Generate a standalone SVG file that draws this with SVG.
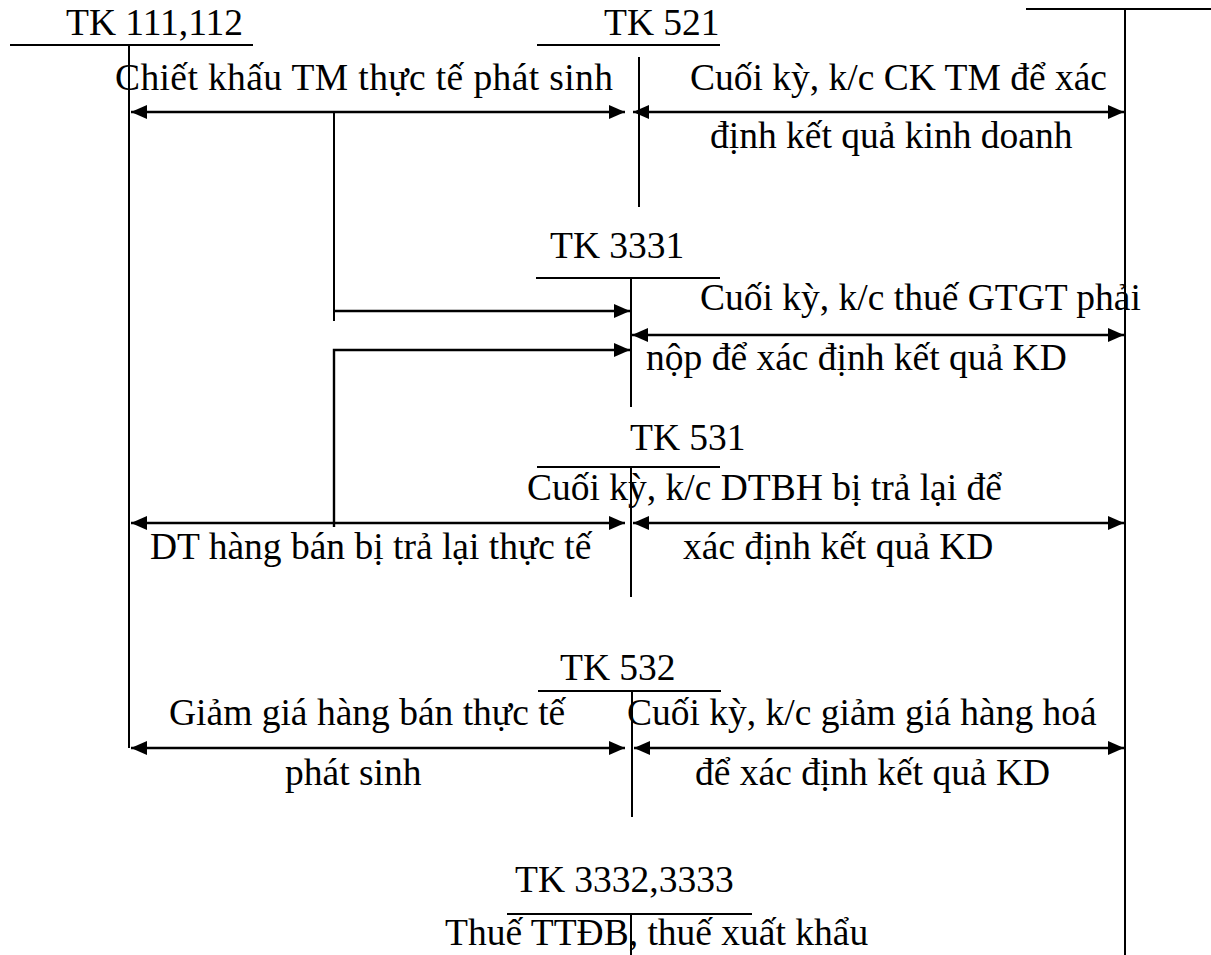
<svg xmlns="http://www.w3.org/2000/svg" width="1211" height="955" viewBox="0 0 1211 955">
<style>
.t{font-family:"Liberation Serif","Times New Roman",serif;font-size:37.5px;fill:#000}
.l{stroke:#000;stroke-width:2;fill:none}
.a{stroke:#000;stroke-width:2.4;fill:none;marker-end:url(#ah)}
.d{stroke:#000;stroke-width:2.4;fill:none;marker-end:url(#ah);marker-start:url(#ah)}
</style>
<defs>
<marker id="ah" markerUnits="userSpaceOnUse" markerWidth="18" markerHeight="16" refX="16" refY="7" orient="auto-start-reverse">
<path d="M0,0 L16,7 L0,14 z" fill="#000"/>
</marker>
</defs>
<g id="tk111">
<text class="t" x="66" y="35">TK 111,112</text>
<line class="l" x1="10" y1="45" x2="253" y2="45"/>
<line class="l" x1="129" y1="45" x2="129" y2="748"/>
</g>
<g id="tk521">
<text class="t" x="604" y="35">TK 521</text>
<line class="l" x1="537" y1="45" x2="720" y2="45"/>
<line class="l" x1="639" y1="57" x2="639" y2="207"/>
</g>
<g id="tk911">
<line class="l" x1="1026" y1="9" x2="1211" y2="9"/>
<line class="l" x1="1125" y1="9" x2="1125" y2="955"/>
</g>
<g id="tk3331">
<text class="t" x="550" y="258">TK 3331</text>
<line class="l" x1="536" y1="278" x2="720" y2="278"/>
<line class="l" x1="631" y1="278" x2="631" y2="407"/>
</g>
<g id="tk531">
<text class="t" x="630" y="450">TK 531</text>
<line class="l" x1="537" y1="467" x2="720" y2="467"/>
<line class="l" x1="631" y1="467" x2="631" y2="597"/>
</g>
<g id="tk532">
<text class="t" x="560" y="680">TK 532</text>
<line class="l" x1="538" y1="691" x2="721" y2="691"/>
<line class="l" x1="632" y1="691" x2="632" y2="817"/>
</g>
<g id="tk3332">
<text class="t" x="515" y="892">TK 3332,3333</text>
<line class="l" x1="507" y1="914" x2="752" y2="914"/>
<line class="l" x1="631" y1="914" x2="631" y2="955"/>
</g>
<g id="connectors">
<line class="d" x1="131" y1="112" x2="625" y2="112"/>
<line class="d" x1="633" y1="112" x2="1124" y2="112"/>
<polyline class="l" points="334,112 334,321"/>
<polyline class="a" points="334,311 630,311"/>
<line class="d" x1="632" y1="335" x2="1124" y2="335"/>
<polyline class="a" points="334,527 334,350 630,350"/>
<line class="d" x1="131" y1="523" x2="625" y2="523"/>
<line class="d" x1="633" y1="523" x2="1124" y2="523"/>
<line class="d" x1="131" y1="748" x2="625" y2="748"/>
<line class="d" x1="634" y1="748" x2="1124" y2="748"/>
</g>
<g id="labels">
<text class="t" x="115" y="90" textLength="498" lengthAdjust="spacing">Chiết khấu TM thực tế phát sinh</text>
<text class="t" x="690" y="90">Cuối kỳ, k/c CK TM để xác</text>
<text class="t" x="710" y="148">định kết quả kinh doanh</text>
<text class="t" x="700" y="310">Cuối kỳ, k/c thuế GTGT phải</text>
<text class="t" x="646" y="370">nộp để xác định kết quả KD</text>
<text class="t" x="527" y="500">Cuối kỳ, k/c DTBH bị trả lại để</text>
<text class="t" x="150" y="559">DT hàng bán bị trả lại thực tế</text>
<text class="t" x="683" y="559">xác định kết quả KD</text>
<text class="t" x="169" y="725">Giảm giá hàng bán thực tế</text>
<text class="t" x="285" y="785">phát sinh</text>
<text class="t" x="627" y="725">Cuối kỳ, k/c giảm giá hàng hoá</text>
<text class="t" x="695" y="785">để xác định kết quả KD</text>
<text class="t" x="445" y="945">Thuế TTĐB, thuế xuất khẩu</text>
</g>
</svg>
